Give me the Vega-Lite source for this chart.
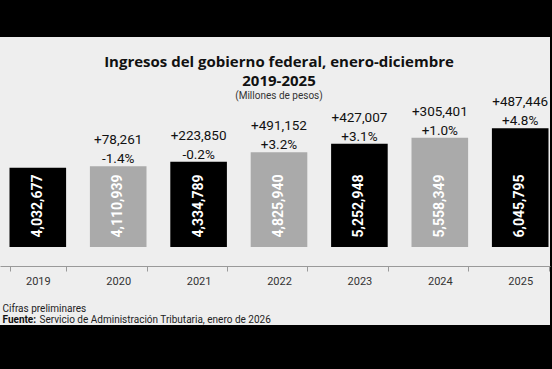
{
  "$schema": "https://vega.github.io/schema/vega-lite/v6.json",
  "width": 550,
  "height": 288,
  "autosize": {"type": "none"},
  "padding": {"top": 37, "left": 0, "right": 2, "bottom": 44},
  "background": "#000000",
  "config": {
    "view": {"fill": "#eeeeee", "stroke": null},
    "font": "Roboto",
    "locale": {"number": {"decimal": ".", "thousands": ",", "grouping": [3], "currency": ["$", ""], "minus": "-"}}
  },
  "title": {
    "text": ["Ingresos del gobierno federal, enero-diciembre", "2019-2025"],
    "subtitle": "(Millones de pesos)",
    "frame": "group",
    "anchor": "middle",
    "offset": -64,
    "dx": 4,
    "font": "Open Sans",
    "fontSize": 15,
    "fontWeight": "bold",
    "color": "#111111",
    "lineHeight": 19.5,
    "subtitleFont": "Roboto",
    "subtitleFontSize": 10,
    "subtitleColor": "#333333",
    "subtitlePadding": 2
  },
  "data": {
    "values": [
      {"year": "2019", "value": 4032677, "delta": null, "pct": null},
      {"year": "2020", "value": 4110939, "delta": 78261, "pct": -0.014},
      {"year": "2021", "value": 4334789, "delta": 223850, "pct": -0.002},
      {"year": "2022", "value": 4825940, "delta": 491152, "pct": 0.032},
      {"year": "2023", "value": 5252948, "delta": 427007, "pct": 0.031},
      {"year": "2024", "value": 5558349, "delta": 305401, "pct": 0.010},
      {"year": "2025", "value": 6045795, "delta": 487446, "pct": 0.048}
    ]
  },
  "resolve": {"axis": {"y": "independent"}},
  "encoding": {
    "x": {
      "field": "year",
      "type": "ordinal",
      "scale": {"paddingInner": 0.296, "paddingOuter": 0.0684, "align": 0.864},
      "axis": {
        "title": "Servicio de Administración Tributaria, enero de 2026",
        "titleX": 39,
        "titleY": 56,
        "titleAlign": "left",
        "titleAnchor": "start",
        "titleBaseline": "alphabetic",
        "titleFont": "Roboto",
        "titleFontSize": 10,
        "titleFontWeight": "normal",
        "titleColor": "#222222",
        "labelAngle": 0,
        "labelFont": "Roboto",
        "labelFontSize": 11,
        "labelColor": "#333333",
        "labelPadding": 4,
        "tickBand": "extent",
        "tickSize": 5,
        "tickColor": "#999999",
        "domainColor": "#999999",
        "offset": -59,
        "grid": false
      }
    }
  },
  "layer": [
    {
      "mark": {"type": "bar"},
      "encoding": {
        "y": {
          "field": "value",
          "type": "quantitative",
          "scale": {"domain": [-3970000, 10687000], "nice": false, "zero": false},
          "axis": {
            "orient": "left",
            "title": "Fuente:",
            "titleAngle": 0,
            "titleX": 2,
            "titleY": 285,
            "titleAlign": "left",
            "titleBaseline": "alphabetic",
            "titleFont": "Roboto",
            "titleFontSize": 10,
            "titleFontWeight": "bold",
            "titleColor": "#111111",
            "domain": false,
            "ticks": false,
            "labels": false,
            "grid": false
          }
        },
        "color": {
          "condition": {"test": "toNumber(datum.year) % 2 === 0", "value": "#aaaaaa"},
          "value": "#000000"
        }
      }
    },
    {
      "mark": {"type": "text", "angle": 270, "align": "left", "baseline": "middle", "fontWeight": "bold", "fontSize": 14, "color": "#ffffff", "yOffset": -9.5},
      "encoding": {
        "y": {
          "datum": 0,
          "type": "quantitative",
          "axis": {
            "orient": "left",
            "title": "Cifras preliminares",
            "titleAngle": 0,
            "titleX": 2,
            "titleY": 274,
            "titleAlign": "left",
            "titleBaseline": "alphabetic",
            "titleFont": "Roboto",
            "titleFontSize": 10,
            "titleFontWeight": "normal",
            "titleColor": "#222222",
            "domain": false,
            "ticks": false,
            "labels": false,
            "grid": false
          }
        },
        "text": {"field": "value", "type": "quantitative", "format": ","}
      }
    },
    {
      "transform": [{"filter": "isValid(datum.pct)"}],
      "mark": {"type": "text", "baseline": "alphabetic", "dy": -3, "fontSize": 13.5, "color": "#111111"},
      "encoding": {
        "y": {"field": "value", "type": "quantitative", "axis": null},
        "text": {"field": "pct", "type": "quantitative", "format": "+.1%"}
      }
    },
    {
      "transform": [{"filter": "isValid(datum.delta)"}],
      "mark": {"type": "text", "baseline": "alphabetic", "dy": -22, "fontSize": 13.5, "color": "#111111"},
      "encoding": {
        "y": {"field": "value", "type": "quantitative", "axis": null},
        "text": {"field": "delta", "type": "quantitative", "format": "+,"}
      }
    }
  ]
}
